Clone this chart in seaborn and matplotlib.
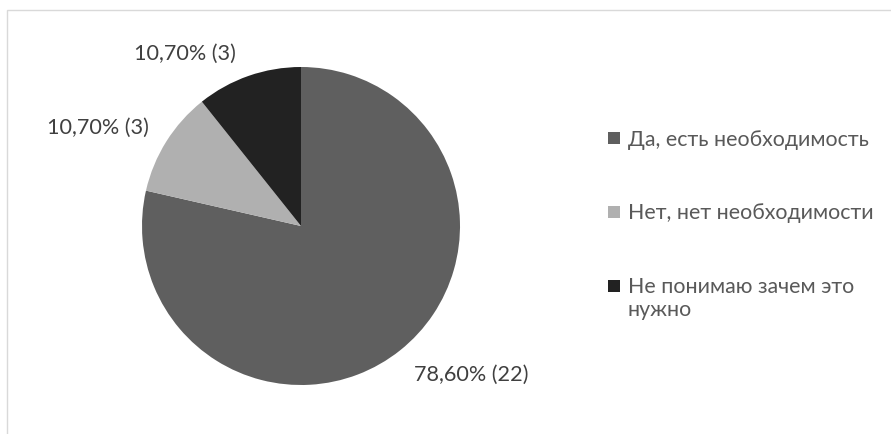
import matplotlib
matplotlib.use("Agg")
import matplotlib.pyplot as plt
from matplotlib.patches import Rectangle
from matplotlib.legend_handler import HandlerPatch
import seaborn as sns

# Survey answers
categories = ["Да, есть необходимость", "Нет, нет необходимости", "Не понимаю зачем это\nнужно"]
counts = [22, 3, 3]
percent_labels = ["78,60%", "10,70%", "10,70%"]
colors = ["#5f5f5f", "#b0b0b0", "#222222"]

sns.set_theme(style="white")
plt.rcParams["font.family"] = ["Lato", "DejaVu Sans"]

fig = plt.figure(figsize=(8.91, 4.34), dpi=100)
W, H = 891, 434

# frame around the chart area
fig.patches.append(Rectangle((7 / W, -0.1), 1.0, (434 - 10) / H + 0.1, transform=fig.transFigure,
                             fill=False, edgecolor="#d9d9d9", linewidth=1.0))

ax = fig.add_axes([142 / W, 49 / H, 318 / W, 318 / H])
wedges, texts = ax.pie(
    counts,
    colors=colors,
    startangle=90,
    counterclock=False,
    labels=[f"{p} ({c})" for p, c in zip(percent_labels, counts)],
    labeldistance=1.45,
    wedgeprops=dict(linewidth=0),
    textprops=dict(color="#404040", fontsize=15.6),
)
ax.set_xlim(-1, 1)
ax.set_ylim(-1, 1)
ax.set_aspect("equal")
ax.axis("off")

# label anchors (in radius units) for the data labels
label_anchor = [(1.072, -0.937), (-1.274, 0.616), (-0.733, 1.082)]
for t, (x, y) in zip(texts, label_anchor):
    t.set_position((x, y))
    t.set_ha("center")
    t.set_va("center")


class SquareHandle(HandlerPatch):
    """Square legend key aligned with the first line of its label."""

    def create_artists(self, legend, orig_handle, xdescent, ydescent, width, height,
                       fontsize, trans):
        nlines = legend_labels[legend_handles.index(orig_handle)].count("\n") + 1
        shift = 0.6 * fontsize * (nlines - 1)
        side = width
        y0 = -ydescent + (height - side) / 2 + shift
        p = Rectangle((-xdescent, y0), side, side, facecolor=orig_handle.get_facecolor(),
                      edgecolor="none", transform=trans)
        return [p]


legend_handles = [Rectangle((0, 0), 1, 1, facecolor=c) for c in colors]
legend_labels = categories
LEG_FS = 15.4
leg = fig.legend(legend_handles, legend_labels, loc="upper left",
                 bbox_to_anchor=(608 / W, 1 - 130 / H),
                 frameon=False, fontsize=LEG_FS, labelcolor="#595959",
                 handlelength=0.56, handleheight=0.56, handletextpad=0.36,
                 labelspacing=2.5, borderpad=0, borderaxespad=0,
                 handler_map={Rectangle: SquareHandle()})

fig.savefig("out.png", dpi=100)
